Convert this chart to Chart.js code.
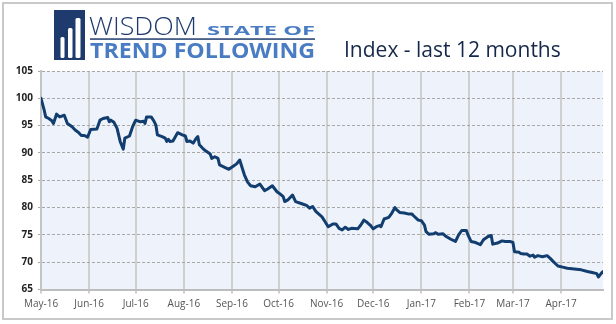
<!DOCTYPE html>
<html>
<head>
<meta charset="utf-8">
<script src="https://cdn.jsdelivr.net/npm/chart.js@4/dist/chart.umd.min.js"></script>
<style>
    body { margin: 0; background: #fff; }
    #frame { position: absolute; left: 2px; top: 2px; width: 607px; height: 314px; border: 2px solid #c9c9c9; }
    #chart { position: absolute; left: 0; top: 0; }
    #logo { position: absolute; left: 0; top: 0; }
    #title { position: absolute; left: 344px; top: 35px; font-family: "Open Sans", sans-serif; font-size: 21px; font-weight: 500; color: #15284a; white-space: nowrap; }
</style>
</head>
<body>
<div id="frame"></div>
<canvas id="chart" width="616" height="324"></canvas>
<svg id="logo" width="340" height="66">
    <rect x="54" y="10" width="31" height="50" fill="#1f3b6e"/>
    <rect x="60.5" y="37" width="4" height="21" rx="1.5" fill="#fff"/>
    <rect x="68" y="28" width="4.5" height="30" rx="1.5" fill="#fff"/>
    <rect x="75.5" y="18" width="5" height="40" rx="1.5" fill="#fff"/>
    <text x="89" y="35" font-family="Open Sans, sans-serif" font-weight="300" font-size="25" fill="#1f3b6e" textLength="108" lengthAdjust="spacingAndGlyphs">WISDOM</text>
    <text x="207" y="34.5" font-family="Open Sans, sans-serif" font-weight="bold" font-size="13" fill="#4a7cc4" textLength="108" lengthAdjust="spacingAndGlyphs">STATE OF</text>
    <rect x="90" y="38.3" width="225" height="1.5" fill="#1f3b6e"/>
    <text x="90" y="58.3" font-family="Open Sans, sans-serif" font-weight="bold" font-size="21.5" fill="#4a7cc4" textLength="225" lengthAdjust="spacingAndGlyphs">TREND FOLLOWING</text>
</svg>
<div id="title">Index - last 12 months</div>
<script>
    // days counted from 1 May 2016
    const monthStarts = [0, 31, 61, 92, 123, 153, 184, 214, 245, 276, 304, 335];
    const monthLabels = ['May-16', 'Jun-16', 'Jul-16', 'Aug-16', 'Sep-16', 'Oct-16',
                         'Nov-16', 'Dec-16', 'Jan-17', 'Feb-17', 'Mar-17', 'Apr-17'];
    const yTicks = [65, 70, 75, 80, 85, 90, 95, 100, 105];

    const days = [
        0, 2, 3, 5, 7, 8, 10, 12, 15, 17, 20, 22, 24, 26, 28, 30, 32, 36, 38, 40,
        43, 44, 45, 47, 49, 51, 53, 54, 57, 59, 61, 64, 66, 67, 68, 71, 73, 74, 75, 78,
        80, 81, 82, 83, 85, 88, 91, 93, 94, 96, 98, 100, 101, 102, 104, 106, 109, 110, 112, 114,
        115, 118, 121, 124, 126, 128, 129, 131, 133, 135, 138, 141, 144, 146, 149, 152, 154, 156, 157, 159,
        162, 164, 168, 171, 173, 175, 177, 179, 181, 183, 185, 188, 190, 192, 194, 196, 198, 200, 204, 206,
        208, 210, 212, 214, 216, 218, 219, 221, 224, 226, 228, 229, 231, 234, 237, 239, 240, 243, 245, 247,
        248, 250, 253, 254, 256, 259, 261, 264, 267, 269, 271, 274, 275, 277, 280, 283, 285, 288, 290, 291,
        294, 297, 299, 302, 304, 305, 308, 309, 311, 313, 315, 317, 318, 320, 323, 326, 328, 330, 333, 336,
        339, 342, 345, 348, 352, 355, 358, 359, 361, 362
    ];
    const values = [
        100.0, 97.9, 96.6, 96.3, 95.9, 95.4, 97.1, 96.6, 96.9, 95.4, 94.8, 94.2, 93.8, 93.2, 93.2, 92.9, 94.3, 94.4, 96.0, 96.3,
        96.5, 95.7, 96.0, 95.6, 94.5, 92.1, 90.7, 92.7, 93.1, 94.8, 96.0, 95.7, 95.8, 95.4, 96.6, 96.6, 95.7, 95.1, 93.3, 93.0,
        92.7, 92.1, 92.5, 92.1, 92.2, 93.7, 93.3, 93.1, 92.1, 92.2, 91.8, 92.7, 93.0, 91.5, 90.9, 90.4, 89.8, 89.0, 89.3, 89.0,
        87.8, 87.4, 87.0, 87.6, 88.0, 88.7, 87.8, 86.0, 84.7, 84.0, 83.8, 84.3, 83.1, 83.4, 84.0, 82.9, 82.5, 82.0, 81.1, 81.4,
        82.3, 81.1, 80.7, 80.4, 79.9, 80.2, 79.3, 78.8, 78.3, 77.4, 76.5, 77.0, 77.0, 76.2, 75.9, 76.4, 76.0, 76.2, 76.1, 76.8,
        77.7, 77.3, 76.8, 76.1, 76.5, 76.7, 76.5, 77.9, 78.2, 79.0, 80.0, 79.6, 79.1, 79.0, 78.8, 78.8, 78.5, 77.7, 77.6, 76.8,
        75.6, 75.1, 75.2, 75.4, 75.1, 75.2, 74.7, 74.2, 73.8, 75.0, 75.8, 75.8, 75.0, 73.8, 73.6, 73.2, 74.1, 74.7, 74.9, 73.3,
        73.5, 73.9, 73.8, 73.8, 73.6, 71.9, 71.8, 71.6, 71.5, 71.5, 71.1, 71.3, 70.9, 71.2, 71.0, 71.2, 70.7, 70.1, 69.3, 69.1,
        68.9, 68.8, 68.7, 68.6, 68.3, 68.1, 67.9, 67.3, 68.0, 68.3
    ];

    // light blue fill behind the plot area
    const plotBackground = {
        id: 'plotBackground',
        beforeDraw(chart) {
            const {ctx, chartArea: a} = chart;
            ctx.save();
            ctx.fillStyle = '#eef3fb';
            ctx.fillRect(a.left, a.top, a.right - a.left, a.bottom - a.top);
            ctx.restore();
        }
    };

    new Chart(document.getElementById('chart'), {
        type: 'line',
        data: {
            datasets: [{
                label: 'Index',
                data: days.map((d, i) => ({x: d, y: values[i]})),
                borderColor: '#113d6f',
                borderWidth: 3,
                borderJoinStyle: 'round',
                borderCapStyle: 'round',
                pointRadius: 0,
                tension: 0,
                fill: false
            }]
        },
        options: {
            responsive: false,
            animation: false,
            layout: { padding: { left: 0, top: 71, right: 13, bottom: 0 } },
            plugins: {
                legend: { display: false },
                tooltip: { enabled: false }
            },
            scales: {
                x: {
                    type: 'linear',
                    min: 0,
                    max: 362,
                    afterBuildTicks: axis => { axis.ticks = monthStarts.map(v => ({value: v})); },
                    afterFit: axis => { axis.height = 34.5; },
                    ticks: {
                        autoSkip: false,
                        maxRotation: 0,
                        padding: 5,
                        color: '#555',
                        font: { family: 'Open Sans', size: 10 },
                        callback: value => monthLabels[monthStarts.indexOf(value)]
                    },
                    grid: { color: '#cfcfcf', lineWidth: 2, tickLength: 4 },
                    border: { color: '#bdbdbd', width: 2 }
                },
                y: {
                    min: 65,
                    max: 105,
                    afterBuildTicks: axis => { axis.ticks = yTicks.map(v => ({value: v})); },
                    afterFit: axis => { axis.width = 41; },
                    ticks: {
                        padding: 5,
                        color: '#222',
                        font: { family: 'Open Sans', size: 10, weight: 'bold' }
                    },
                    grid: { color: '#a8a8a8', lineWidth: 1, tickLength: 3 },
                    border: { color: '#c4c4c4', width: 2, dash: [3, 2] }
                }
            }
        },
        plugins: [plotBackground]
    });
</script>
</body>
</html>
